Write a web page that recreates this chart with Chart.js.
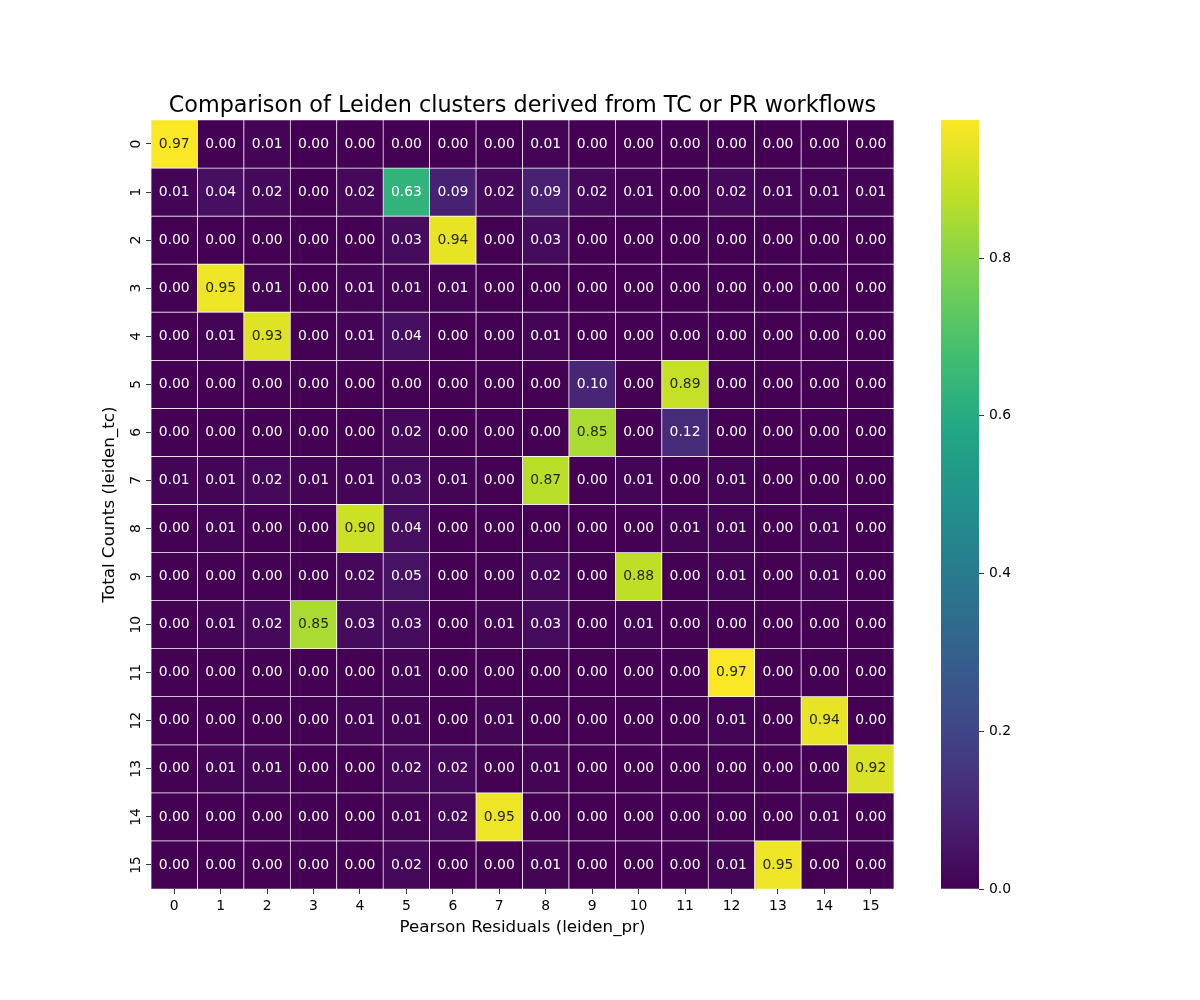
<!DOCTYPE html>
<html>
<head>
<meta charset="utf-8">
<script src="https://cdn.jsdelivr.net/npm/chart.js@4.4.1/dist/chart.umd.min.js"></script>
<style>
  body { margin: 0; background: #fff; }
  #wrap { position: relative; width: 1200px; height: 1000px; }
  canvas { position: absolute; top: 0; }
</style>
</head>
<body>
<div id="wrap">
  <canvas id="heat" style="left:0;width:1200px;height:1000px"></canvas>
  <canvas id="cbar" style="left:941px;width:100px;height:1000px"></canvas>
</div>
<script>
// cluster ids on both axes
const prLabels = ['0','1','2','3','4','5','6','7','8','9','10','11','12','13','14','15'];
const tcLabels = ['0','1','2','3','4','5','6','7','8','9','10','11','12','13','14','15'];

// fraction of each TC cluster (row) that lands in each PR cluster (column)
const overlap = [
  [0.97,0.00,0.01,0.00,0.00,0.00,0.00,0.00,0.01,0.00,0.00,0.00,0.00,0.00,0.00,0.00],
  [0.01,0.04,0.02,0.00,0.02,0.63,0.09,0.02,0.09,0.02,0.01,0.00,0.02,0.01,0.01,0.01],
  [0.00,0.00,0.00,0.00,0.00,0.03,0.94,0.00,0.03,0.00,0.00,0.00,0.00,0.00,0.00,0.00],
  [0.00,0.95,0.01,0.00,0.01,0.01,0.01,0.00,0.00,0.00,0.00,0.00,0.00,0.00,0.00,0.00],
  [0.00,0.01,0.93,0.00,0.01,0.04,0.00,0.00,0.01,0.00,0.00,0.00,0.00,0.00,0.00,0.00],
  [0.00,0.00,0.00,0.00,0.00,0.00,0.00,0.00,0.00,0.10,0.00,0.89,0.00,0.00,0.00,0.00],
  [0.00,0.00,0.00,0.00,0.00,0.02,0.00,0.00,0.00,0.85,0.00,0.12,0.00,0.00,0.00,0.00],
  [0.01,0.01,0.02,0.01,0.01,0.03,0.01,0.00,0.87,0.00,0.01,0.00,0.01,0.00,0.00,0.00],
  [0.00,0.01,0.00,0.00,0.90,0.04,0.00,0.00,0.00,0.00,0.00,0.01,0.01,0.00,0.01,0.00],
  [0.00,0.00,0.00,0.00,0.02,0.05,0.00,0.00,0.02,0.00,0.88,0.00,0.01,0.00,0.01,0.00],
  [0.00,0.01,0.02,0.85,0.03,0.03,0.00,0.01,0.03,0.00,0.01,0.00,0.00,0.00,0.00,0.00],
  [0.00,0.00,0.00,0.00,0.00,0.01,0.00,0.00,0.00,0.00,0.00,0.00,0.97,0.00,0.00,0.00],
  [0.00,0.00,0.00,0.00,0.01,0.01,0.00,0.01,0.00,0.00,0.00,0.00,0.01,0.00,0.94,0.00],
  [0.00,0.01,0.01,0.00,0.00,0.02,0.02,0.00,0.01,0.00,0.00,0.00,0.00,0.00,0.00,0.92],
  [0.00,0.00,0.00,0.00,0.00,0.01,0.02,0.95,0.00,0.00,0.00,0.00,0.00,0.00,0.01,0.00],
  [0.00,0.00,0.00,0.00,0.00,0.02,0.00,0.00,0.01,0.00,0.00,0.00,0.01,0.95,0.00,0.00]
];

// colour bar range and ticks
const vmin = 0;
const vmax = 0.975;
const cbarTicks = [0, 0.2, 0.4, 0.6, 0.8];

const FONT = "'DejaVu Sans', sans-serif";
Chart.defaults.font.family = FONT;
Chart.defaults.color = '#000';

// viridis, 11 stops
const VIRIDIS = ['#440154','#482475','#414487','#355f8d','#2a788e','#21918c','#22a884','#44bf70','#7ad151','#bddf26','#fde725'];
const hexRgb = h => [1, 3, 5].map(i => parseInt(h.substr(i, 2), 16));
function viridisRgb(t) {
  t = Math.min(1, Math.max(0, t));
  const p = t * (VIRIDIS.length - 1);
  const i = Math.min(VIRIDIS.length - 2, Math.floor(p));
  const f = p - i;
  const a = hexRgb(VIRIDIS[i]), b = hexRgb(VIRIDIS[i + 1]);
  return a.map((v, k) => Math.round(v + (b[k] - v) * f));
}
const viridis = v => 'rgb(' + viridisRgb((v - vmin) / (vmax - vmin)).join(',') + ')';

// seaborn picks dark or white annotation text from the cell luminance
function textColor(v) {
  const lin = viridisRgb((v - vmin) / (vmax - vmin)).map(c => {
    c /= 255;
    return c <= 0.03928 ? c / 12.92 : Math.pow((c + 0.055) / 1.055, 2.4);
  });
  const lum = 0.2126 * lin[0] + 0.7152 * lin[1] + 0.0722 * lin[2];
  return lum > 0.408 ? '#262626' : '#fff';
}

const annotate = {
  id: 'annotate',
  afterDatasetsDraw(chart) {
    const ctx = chart.ctx;
    ctx.save();
    ctx.font = '13.9px ' + FONT;
    ctx.textAlign = 'center';
    ctx.textBaseline = 'middle';
    chart.data.datasets.forEach((ds, r) => {
      chart.getDatasetMeta(r).data.forEach((bar, c) => {
        const p = bar.getProps(['x', 'y', 'base'], true);
        const v = overlap[r][c];
        ctx.fillStyle = textColor(v);
        ctx.fillText(v.toFixed(2), p.x, (p.y + p.base) / 2);
      });
    });
    ctx.restore();
  }
};

// one floating-bar dataset per TC row, spanning [row, row + 1]
const rowSets = tcLabels.map((lab, r) => ({
  label: 'leiden_tc ' + lab,
  data: prLabels.map(() => [r, r + 1]),
  backgroundColor: overlap[r].map(viridis),
  borderColor: '#fff',
  borderWidth: 0.7,
  borderSkipped: false,
  grouped: false,
  barPercentage: 1,
  categoryPercentage: 1
}));

const tickGrid = { display: true, drawOnChartArea: false, offset: false, tickLength: 5, tickColor: '#000', tickWidth: 0.8 };

new Chart(document.getElementById('heat'), {
  type: 'bar',
  data: { labels: prLabels, datasets: rowSets },
  options: {
    responsive: false,
    animation: false,
    layout: { padding: { top: 92.5, left: 96, right: 306, bottom: 58 } },
    plugins: {
      legend: { display: false },
      tooltip: { enabled: false },
      title: {
        display: true,
        text: 'Comparison of Leiden clusters derived from TC or PR workflows',
        fullSize: false,
        color: '#000',
        font: { size: 22.3, weight: 'normal' },
        padding: { top: 0, bottom: 0.7 }
      }
    },
    scales: {
      x: {
        type: 'category',
        offset: true,
        grid: tickGrid,
        border: { display: false },
        ticks: { font: { size: 13.9 }, padding: 4, maxRotation: 0, autoSkip: false },
        title: { display: true, text: 'Pearson Residuals (leiden_pr)', font: { size: 16.7 } },
        afterFit: s => { s.height = 53; }
      },
      y: {
        type: 'linear',
        min: 0,
        max: tcLabels.length,
        reverse: true,
        grid: tickGrid,
        border: { display: false },
        afterBuildTicks: s => { s.ticks = tcLabels.map((_, i) => ({ value: i + 0.5 })); },
        ticks: {
          font: { size: 13.9 },
          padding: 1,
          minRotation: 90,
          maxRotation: 90,
          crossAlign: 'center',
          autoSkip: false,
          callback: v => tcLabels[Math.floor(v)]
        },
        title: { display: true, text: 'Total Counts (leiden_tc)', font: { size: 16.7 } },
        afterFit: s => { s.width = 55; }
      }
    }
  },
  plugins: [annotate]
});

// colour bar: a single bar filled with the viridis gradient
new Chart(document.getElementById('cbar'), {
  type: 'bar',
  data: {
    labels: [''],
    datasets: [{
      data: [[vmin, vmax]],
      barPercentage: 1,
      categoryPercentage: 1,
      borderWidth: 0,
      backgroundColor: ctx => {
        const area = ctx.chart.chartArea;
        if (!area) return VIRIDIS[0];
        const g = ctx.chart.ctx.createLinearGradient(0, area.bottom, 0, area.top);
        VIRIDIS.forEach((c, i) => g.addColorStop(i / (VIRIDIS.length - 1), c));
        return g;
      }
    }]
  },
  options: {
    responsive: false,
    animation: false,
    layout: { padding: { top: 120, bottom: 111, left: 0, right: 0 } },
    plugins: { legend: { display: false }, tooltip: { enabled: false } },
    scales: {
      x: { display: false, offset: true },
      y: {
        position: 'right',
        min: vmin,
        max: vmax,
        grid: tickGrid,
        border: { display: false },
        afterBuildTicks: s => { s.ticks = cbarTicks.map(v => ({ value: v })); },
        ticks: { font: { size: 13.9 }, padding: 5, callback: v => v.toFixed(1) },
        afterFit: s => { s.width = 62; }
      }
    }
  }
});
</script>
</body>
</html>
